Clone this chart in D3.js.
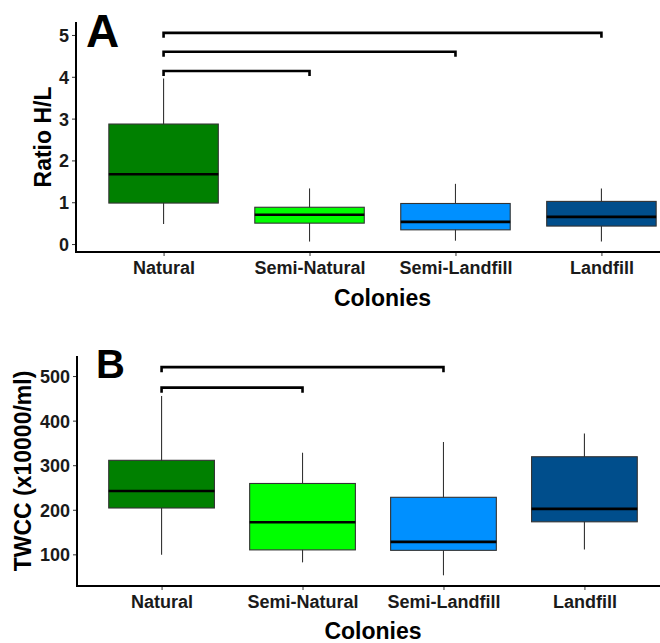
<!DOCTYPE html>
<html>
  <head>
    <meta charset="utf-8">
    <title>H/L ratio and TWCC by colony</title>
    <style>
      body { margin: 0; background: #fff; }
      svg { display: block; font-family: "Liberation Sans", Arial, sans-serif; }
      .tick-label { font-size: 18px; font-weight: bold; fill: #1a1a1a; }
      .axis-title { font-size: 23px; font-weight: bold; fill: #000; }
      .panel-letter { font-weight: bold; fill: #000; }
    </style>
  </head>
  <body>
    <div id="chart"></div>
    <script src="https://cdn.jsdelivr.net/npm/d3@7"></script>
    <script>
      (function(d3) {
        'use strict';

        var colonies = ['Natural', 'Semi-Natural', 'Semi-Landfill', 'Landfill'];
        var fills = ['#008000', '#00ff00', '#0090ff', '#004e8c'];

        // panel A - ratio H/L
        var ratioLow    = [0.48, 0.06, 0.08, 0.06];
        var ratioQ1     = [0.98, 0.50, 0.34, 0.43];
        var ratioMedian = [1.67, 0.70, 0.53, 0.65];
        var ratioQ3     = [2.87, 0.88, 0.97, 1.02];
        var ratioHigh   = [3.96, 1.33, 1.44, 1.33];
        var ratioTicks  = [0, 1, 2, 3, 4, 5];
        var ratioBrackets = [['Natural', 'Landfill', 5.05], ['Natural', 'Semi-Landfill', 4.6], ['Natural', 'Semi-Natural', 4.14]];

        // panel B - TWCC
        var twccLow    = [99, 82, 53, 111];
        var twccQ1     = [204, 110, 109, 173];
        var twccMedian = [242, 172, 128, 202];
        var twccQ3     = [311, 259, 228, 319];
        var twccHigh   = [455, 328, 352, 371];
        var twccTicks  = [100, 200, 300, 400, 500];
        var twccBrackets = [['Natural', 'Semi-Landfill', 520], ['Natural', 'Semi-Natural', 474]];

        var width = 660, height = 643;

        var svg = d3.select('#chart')
          .append('svg')
          .attr('width', width)
          .attr('height', height);

        function panel(opt) {
          var g = svg.append('g');

          var x = d3.scalePoint()
            .domain(colonies)
            .range([opt.left, opt.right])
            .padding(0.6);
          var y = d3.scaleLinear()
            .domain(opt.domain)
            .range([opt.bottom, opt.top]);
          var boxW = x.step() * 0.75;

          var rows = colonies.map(function(c, i) {
            return { name: c, fill: fills[i], low: opt.low[i], q1: opt.q1[i],
                     med: opt.med[i], q3: opt.q3[i], high: opt.high[i] };
          });

          // whiskers
          g.selectAll('.whisker')
            .data(rows)
            .enter()
            .append('line')
            .attr('x1', function(d) { return x(d.name); })
            .attr('x2', function(d) { return x(d.name); })
            .attr('y1', function(d) { return y(d.low); })
            .attr('y2', function(d) { return y(d.high); })
            .attr('stroke', '#333')
            .attr('stroke-width', 1.1);

          // boxes
          g.selectAll('.box')
            .data(rows)
            .enter()
            .append('rect')
            .attr('x', function(d) { return x(d.name) - boxW / 2; })
            .attr('y', function(d) { return y(d.q3); })
            .attr('width', boxW)
            .attr('height', function(d) { return y(d.q1) - y(d.q3); })
            .attr('fill', function(d) { return d.fill; })
            .attr('stroke', '#333')
            .attr('stroke-width', 1.1);

          // medians
          g.selectAll('.median')
            .data(rows)
            .enter()
            .append('line')
            .attr('x1', function(d) { return x(d.name) - boxW / 2; })
            .attr('x2', function(d) { return x(d.name) + boxW / 2; })
            .attr('y1', function(d) { return y(d.med); })
            .attr('y2', function(d) { return y(d.med); })
            .attr('stroke', '#000')
            .attr('stroke-width', 2.6);

          // significance brackets
          g.selectAll('.bracket')
            .data(opt.brackets)
            .enter()
            .append('path')
            .attr('d', function(d) {
              var x1 = x(d[0]), x2 = x(d[1]), yb = y(d[2]), yd = yb + 5;
              return 'M' + x1 + ',' + yd + 'V' + yb + 'H' + x2 + 'V' + yd;
            })
            .attr('fill', 'none')
            .attr('stroke', '#000')
            .attr('stroke-width', 2.6);

          // y axis
          var yAxis = g.append('g')
            .attr('transform', 'translate(' + opt.left + ',0)')
            .call(d3.axisLeft(y).tickValues(opt.ticks).tickFormat(d3.format('d')).tickSize(4).tickPadding(3));
          yAxis.select('.domain').remove();
          yAxis.selectAll('.tick line').attr('stroke', '#333');
          yAxis.selectAll('.tick text').attr('class', 'tick-label').attr('dy', '0.36em');

          // x axis
          var xAxis = g.append('g')
            .attr('transform', 'translate(0,' + opt.bottom + ')')
            .call(d3.axisBottom(x).tickSize(4).tickPadding(4));
          xAxis.select('.domain').remove();
          xAxis.selectAll('.tick line').attr('stroke', '#333');
          xAxis.selectAll('.tick text').attr('class', 'tick-label').attr('dy', '0.75em');

          // axis lines
          g.append('path')
            .attr('d', 'M' + opt.left + ',' + opt.top + 'V' + opt.bottom + 'H' + opt.right)
            .attr('fill', 'none')
            .attr('stroke', '#000')
            .attr('stroke-width', 2);

          // titles
          g.append('text')
            .attr('class', 'axis-title')
            .attr('text-anchor', 'middle')
            .attr('x', (opt.left + opt.right) / 2)
            .attr('y', opt.xTitleY)
            .text('Colonies');

          g.append('text')
            .attr('class', 'axis-title')
            .attr('text-anchor', 'middle')
            .attr('transform', 'translate(' + opt.yTitleX + ',' + ((opt.top + opt.bottom) / 2) + ') rotate(-90)')
            .text(opt.yTitle);

          g.append('text')
            .attr('class', 'panel-letter')
            .attr('x', opt.letterX)
            .attr('y', opt.letterY)
            .style('font-size', opt.letterSize + 'px')
            .text(opt.letter);
        }

        panel({
          left: 76, right: 689, top: 22, bottom: 252, domain: [-0.19, 5.31],
          low: ratioLow, q1: ratioQ1, med: ratioMedian, q3: ratioQ3, high: ratioHigh,
          ticks: ratioTicks, brackets: ratioBrackets,
          yTitle: 'Ratio H/L', yTitleX: 51, xTitleY: 306,
          letter: 'A', letterX: 86, letterY: 47, letterSize: 46
        });

        panel({
          left: 77, right: 669, top: 356, bottom: 586, domain: [29, 545],
          low: twccLow, q1: twccQ1, med: twccMedian, q3: twccQ3, high: twccHigh,
          ticks: twccTicks, brackets: twccBrackets,
          yTitle: 'TWCC (x10000/ml)', yTitleX: 31, xTitleY: 639,
          letter: 'B', letterX: 96, letterY: 378, letterSize: 40
        });

      })(window.d3);
    </script>
  </body>
</html>
